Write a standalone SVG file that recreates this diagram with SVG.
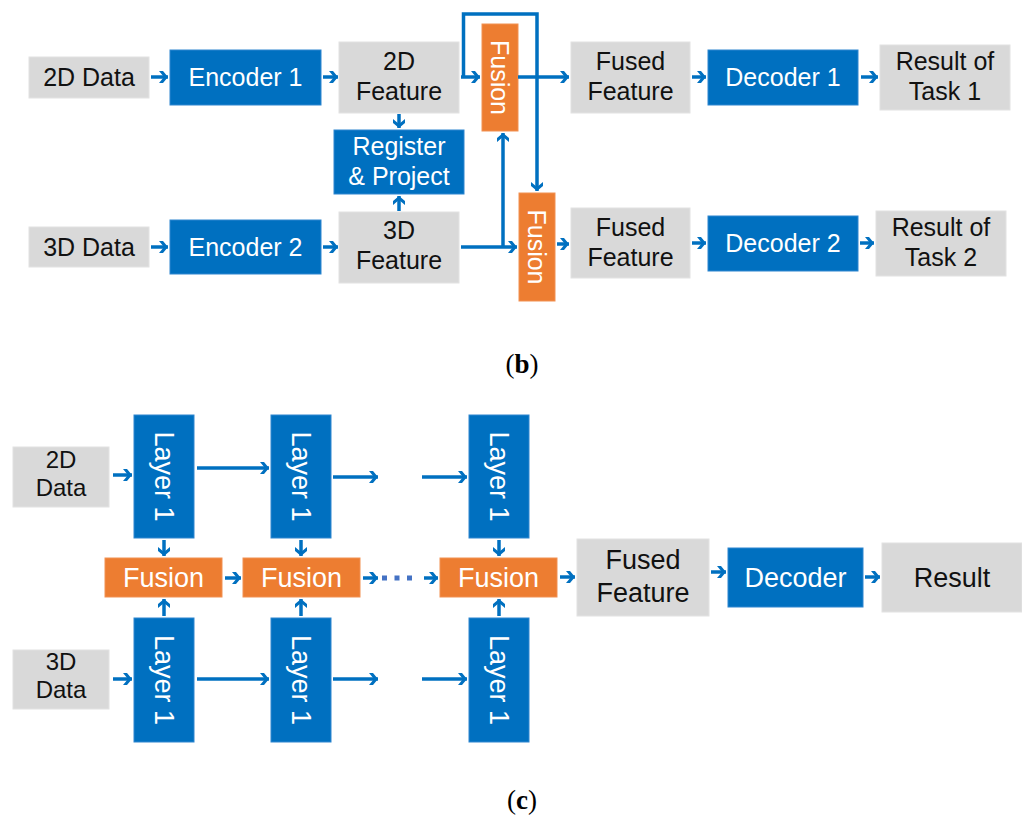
<svg xmlns="http://www.w3.org/2000/svg" width="1022" height="823" viewBox="0 0 1022 823">
<defs>
<marker id="ah" markerUnits="userSpaceOnUse" markerWidth="14" markerHeight="14" refX="11" refY="7" orient="auto">
<path d="M2,1 L6,1 L11,7 L6,13 L2,13 L7,7 z" fill="#0070C0"/>
</marker>
<style>
.g{fill:#D9D9D9;stroke:#E2E2E2;stroke-width:1}
.b{fill:#0070C0;stroke:#2E86D0;stroke-width:1}
.o{fill:#ED7D31;stroke:#F19153;stroke-width:1}
.t{font-family:"Liberation Sans",Arial,sans-serif;font-size:25px;text-anchor:middle;fill:#111}
.w{font-family:"Liberation Sans",Arial,sans-serif;font-size:25px;text-anchor:middle;fill:#fff}
.tc{font-size:27px}
.td{font-size:24px}
.c{fill:none;stroke:#0070C0;stroke-width:3.5}
.a{marker-end:url(#ah)}
.lab{font-family:"Liberation Serif","Times New Roman",serif;font-size:27px;text-anchor:middle;fill:#000}
</style>
</defs>
<rect width="1022" height="823" fill="#fff"/>

<!-- (b) nodes -->
<g id="b-2ddata"><rect class="g" x="29" y="57" width="120" height="41"/><text class="t" x="89" y="86">2D Data</text></g>
<g id="b-enc1"><rect class="b" x="170" y="50" width="151" height="55"/><text class="w" x="245.5" y="86">Encoder 1</text></g>
<g id="b-2dfeat"><rect class="g" x="339" y="42" width="120" height="71"/><text class="t" x="399" y="70">2D</text><text class="t" x="399" y="100">Feature</text></g>
<g id="b-reg"><rect class="b" x="334" y="130" width="130" height="64"/><text class="w" x="399" y="155">Register</text><text class="w" x="399" y="185">&amp; Project</text></g>
<g id="b-3ddata"><rect class="g" x="29" y="227" width="120" height="40"/><text class="t" x="89" y="256">3D Data</text></g>
<g id="b-enc2"><rect class="b" x="170" y="220" width="151" height="54"/><text class="w" x="245.5" y="256">Encoder 2</text></g>
<g id="b-3dfeat"><rect class="g" x="339" y="212" width="120" height="71"/><text class="t" x="399" y="239">3D</text><text class="t" x="399" y="269">Feature</text></g>
<g id="b-fusion1"><rect class="o" x="482" y="24" width="36" height="107"/><text class="w" transform="translate(500,77.5) rotate(90)" dy="9">Fusion</text></g>
<g id="b-fusion2"><rect class="o" x="519" y="193" width="36" height="108"/><text class="w" transform="translate(537,247) rotate(90)" dy="9">Fusion</text></g>
<g id="b-fused1"><rect class="g" x="571" y="42" width="119" height="71"/><text class="t" x="630.5" y="70">Fused</text><text class="t" x="630.5" y="100">Feature</text></g>
<g id="b-dec1"><rect class="b" x="708" y="50" width="150" height="55"/><text class="w" x="783" y="86">Decoder 1</text></g>
<g id="b-res1"><rect class="g" x="880" y="45" width="130" height="65"/><text class="t" x="945" y="70">Result of</text><text class="t" x="945" y="100">Task 1</text></g>
<g id="b-fused2"><rect class="g" x="571" y="208" width="119" height="70"/><text class="t" x="630.5" y="236">Fused</text><text class="t" x="630.5" y="266">Feature</text></g>
<g id="b-dec2"><rect class="b" x="708" y="216" width="150" height="55"/><text class="w" x="783" y="252">Decoder 2</text></g>
<g id="b-res2"><rect class="g" x="876" y="211" width="130" height="65"/><text class="t" x="941" y="236">Result of</text><text class="t" x="941" y="266">Task 2</text></g>

<!-- (c) nodes -->
<g id="c-2ddata"><rect class="g" x="13" y="447" width="96" height="60"/><text class="t td" x="61" y="468">2D</text><text class="t td" x="61" y="496">Data</text></g>
<g id="c-3ddata"><rect class="g" x="13" y="650" width="96" height="59"/><text class="t td" x="61" y="670">3D</text><text class="t td" x="61" y="698">Data</text></g>
<g id="c-l1a"><rect class="b" x="134" y="415" width="60" height="123"/><text class="w tc" transform="translate(164,476.5) rotate(90)" dy="9">Layer 1</text></g>
<g id="c-l2a"><rect class="b" x="271" y="415" width="60" height="123"/><text class="w tc" transform="translate(301,476.5) rotate(90)" dy="9">Layer 1</text></g>
<g id="c-l3a"><rect class="b" x="469" y="415" width="60" height="123"/><text class="w tc" transform="translate(499,476.5) rotate(90)" dy="9">Layer 1</text></g>
<g id="c-l1b"><rect class="b" x="134" y="618" width="60" height="124"/><text class="w tc" transform="translate(164,680) rotate(90)" dy="9">Layer 1</text></g>
<g id="c-l2b"><rect class="b" x="271" y="618" width="60" height="124"/><text class="w tc" transform="translate(301,680) rotate(90)" dy="9">Layer 1</text></g>
<g id="c-l3b"><rect class="b" x="469" y="618" width="60" height="124"/><text class="w tc" transform="translate(499,680) rotate(90)" dy="9">Layer 1</text></g>
<g id="c-f1"><rect class="o" x="105" y="558" width="117" height="39"/><text class="w tc" x="163.5" y="587">Fusion</text></g>
<g id="c-f2"><rect class="o" x="243" y="558" width="117" height="39"/><text class="w tc" x="301.5" y="587">Fusion</text></g>
<g id="c-f3"><rect class="o" x="440" y="558" width="117" height="39"/><text class="w tc" x="498.5" y="587">Fusion</text></g>
<g id="c-fused"><rect class="g" x="577" y="539" width="132" height="77"/><text class="t tc" x="643" y="569">Fused</text><text class="t tc" x="643" y="602">Feature</text></g>
<g id="c-dec"><rect class="b" x="728" y="548" width="135" height="59"/><text class="w tc" x="795.5" y="587">Decoder</text></g>
<g id="c-res"><rect class="g" x="882" y="543" width="140" height="69"/><text class="t tc" x="952" y="587">Result</text></g>

<!-- connectors -->
<g id="connectors">
<path class="c a" d="M151,77 H168"/>
<path class="c a" d="M323,77 H338"/>
<path class="c a" d="M461,77 H480"/>
<path class="c a" d="M463.5,77 V14 H537 V191"/>
<path class="c a" d="M518,77 H569"/>
<path class="c a" d="M692,77 H706"/>
<path class="c a" d="M861,77 H878"/>
<path class="c a" d="M399,114 V128"/>
<path class="c a" d="M399,211 V196"/>
<path class="c a" d="M151,247 H168"/>
<path class="c a" d="M323,247 H338"/>
<path class="c a" d="M461,247 H517"/>
<path class="c a" d="M503,247 V133"/>
<path class="c a" d="M557,244 H569"/>
<path class="c a" d="M692,243 H706"/>
<path class="c a" d="M860,243 H874"/>

<path class="c a" d="M113,475 H132"/>
<path class="c a" d="M197,468 H269"/>
<path class="c a" d="M333,477 H378"/>
<path class="c a" d="M422,477 H467"/>
<path class="c a" d="M113,679 H132"/>
<path class="c a" d="M197,679 H269"/>
<path class="c a" d="M333,679 H378"/>
<path class="c a" d="M422,679 H467"/>
<path class="c a" d="M164,540 V556"/>
<path class="c a" d="M301,540 V556"/>
<path class="c a" d="M499,540 V556"/>
<path class="c a" d="M164,616 V599"/>
<path class="c a" d="M301,616 V599"/>
<path class="c a" d="M499,616 V599"/>
<path class="c a" d="M225,578 H241"/>
<path class="c a" d="M363,578 H378"/>
<path d="M382,578 H418" fill="none" stroke="#4472C4" stroke-width="5" stroke-dasharray="5 7.5"/>
<path class="c a" d="M424,578 H438"/>
<path class="c a" d="M560,577 H575"/>
<path class="c a" d="M711,572 H726"/>
<path class="c a" d="M865,577 H880"/>
</g>

<text class="lab" x="522" y="373">(<tspan font-weight="bold">b</tspan>)</text>
<text class="lab" x="522" y="809">(<tspan font-weight="bold">c</tspan>)</text>
</svg>
